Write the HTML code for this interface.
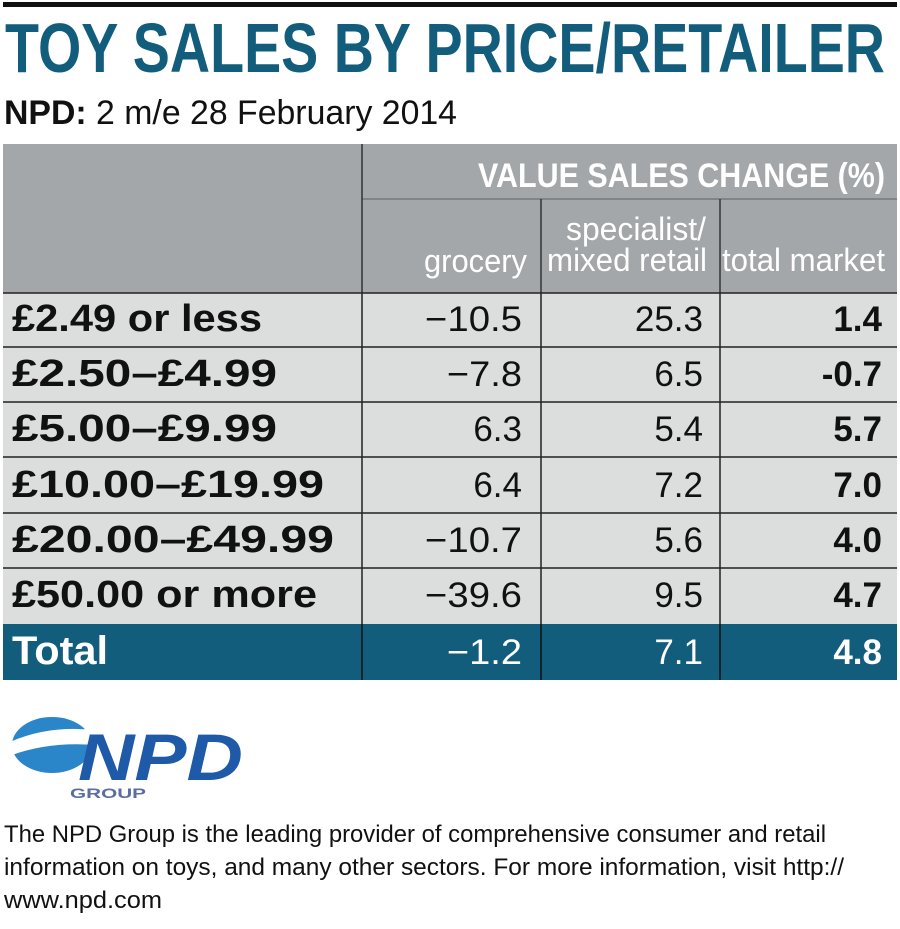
<!DOCTYPE html>
<html><head><meta charset="utf-8"><style>
html,body{margin:0;padding:0;background:#fff;}
svg{display:block;}
text{font-family:"Liberation Sans",sans-serif;}
</style></head><body>
<svg width="900" height="929" viewBox="0 0 900 929" xmlns="http://www.w3.org/2000/svg">
<rect x="3" y="2" width="894" height="5" fill="#111"/>
<text x="5" y="72" font-size="70" font-weight="bold" fill="#125c7c" textLength="880" lengthAdjust="spacingAndGlyphs">TOY SALES BY PRICE/RETAILER</text>
<text x="4" y="124" font-size="34" fill="#111" textLength="453" lengthAdjust="spacingAndGlyphs"><tspan font-weight="bold">NPD:</tspan> 2 m/e 28 February 2014</text>
<rect x="3" y="144" width="894" height="149" fill="#a3a7aa"/>
<line x1="362" y1="199" x2="897" y2="199" stroke="#7f8487" stroke-width="2"/>
<line x1="362" y1="144" x2="362" y2="293" stroke="#333" stroke-width="1.5"/>
<line x1="541" y1="199" x2="541" y2="293" stroke="#333" stroke-width="1.5"/>
<line x1="720" y1="199" x2="720" y2="293" stroke="#333" stroke-width="1.5"/>
<text x="885" y="187" font-size="34" font-weight="bold" fill="#fff" text-anchor="end" textLength="407" lengthAdjust="spacingAndGlyphs">VALUE SALES CHANGE (%)</text>
<text x="527" y="272" font-size="32" fill="#fff" text-anchor="end" textLength="103" lengthAdjust="spacingAndGlyphs">grocery</text>
<text x="706" y="240" font-size="32" fill="#fff" text-anchor="end" textLength="140" lengthAdjust="spacingAndGlyphs">specialist/</text>
<text x="707" y="271" font-size="32" fill="#fff" text-anchor="end" textLength="160" lengthAdjust="spacingAndGlyphs">mixed retail</text>
<text x="885" y="271" font-size="32" fill="#fff" text-anchor="end" textLength="163" lengthAdjust="spacingAndGlyphs">total market</text>
<rect x="3" y="293" width="894" height="331" fill="#dcdddd"/>
<g stroke="#222" stroke-width="1.5">
<line x1="3" y1="293" x2="897" y2="293"/>
<line x1="3" y1="347" x2="897" y2="347"/>
<line x1="3" y1="402" x2="897" y2="402"/>
<line x1="3" y1="457" x2="897" y2="457"/>
<line x1="3" y1="513" x2="897" y2="513"/>
<line x1="3" y1="568" x2="897" y2="568"/>
<line x1="362" y1="293" x2="362" y2="680"/>
<line x1="541" y1="293" x2="541" y2="680"/>
<line x1="720" y1="293" x2="720" y2="680"/>
</g>
<rect x="3" y="624" width="894" height="56" fill="#125c7c"/>
<g stroke="#111" stroke-width="1.5">
<line x1="362" y1="624" x2="362" y2="680"/><line x1="541" y1="624" x2="541" y2="680"/><line x1="720" y1="624" x2="720" y2="680"/>
</g>
<g font-size="35" fill="#111">
<g font-size="38" font-weight="bold">
<text x="12" y="331" textLength="250" lengthAdjust="spacingAndGlyphs">£2.49 or less</text>
<text x="12" y="386" textLength="265" lengthAdjust="spacingAndGlyphs">£2.50–£4.99</text>
<text x="12" y="441" textLength="265" lengthAdjust="spacingAndGlyphs">£5.00–£9.99</text>
<text x="12" y="497" textLength="312" lengthAdjust="spacingAndGlyphs">£10.00–£19.99</text>
<text x="12" y="552" textLength="322" lengthAdjust="spacingAndGlyphs">£20.00–£49.99</text>
<text x="12" y="607" textLength="305" lengthAdjust="spacingAndGlyphs">£50.00 or more</text>
</g>
<g text-anchor="end">
<text x="522" y="331" textLength="97" lengthAdjust="spacingAndGlyphs">−10.5</text>
<text x="522" y="386" textLength="75" lengthAdjust="spacingAndGlyphs">−7.8</text>
<text x="522" y="441">6.3</text>
<text x="522" y="497">6.4</text>
<text x="522" y="552" textLength="97" lengthAdjust="spacingAndGlyphs">−10.7</text>
<text x="522" y="607" textLength="97" lengthAdjust="spacingAndGlyphs">−39.6</text>
<text x="703" y="331">25.3</text>
<text x="703" y="386">6.5</text>
<text x="703" y="441">5.4</text>
<text x="703" y="497">7.2</text>
<text x="703" y="552">5.6</text>
<text x="703" y="607">9.5</text>
<g font-weight="bold">
<text x="882" y="331">1.4</text>
<text x="882" y="386">-0.7</text>
<text x="882" y="441">5.7</text>
<text x="882" y="497">7.0</text>
<text x="882" y="552">4.0</text>
<text x="882" y="607">4.7</text>
</g></g>
<g fill="#fff">
<text x="12" y="664" font-size="40" font-weight="bold" textLength="96" lengthAdjust="spacingAndGlyphs">Total</text>
<text x="522" y="664" text-anchor="end" textLength="75" lengthAdjust="spacingAndGlyphs">−1.2</text>
<text x="703" y="664" text-anchor="end">7.1</text>
<text x="882" y="664" text-anchor="end" font-weight="bold">4.8</text>
</g>
</g>
<g>
<ellipse cx="52" cy="745" rx="40" ry="28" fill="#2a86c8"/>
<path d="M10 742 Q60 720 120 735 L118 748 Q60 738 12 755 Z" fill="#fff"/>
<text x="78" y="780" font-size="66" font-weight="bold" fill="#1e5aa8" font-style="italic" textLength="165" lengthAdjust="spacingAndGlyphs">NPD</text>
<text x="70" y="798" font-size="14" font-weight="bold" fill="#5b6ea0" textLength="76" lengthAdjust="spacingAndGlyphs">GROUP</text>
</g>
<g font-size="24" fill="#111">
<text x="4" y="842" textLength="822" lengthAdjust="spacingAndGlyphs">The NPD Group is the leading provider of comprehensive consumer and retail</text>
<text x="4" y="875" textLength="840" lengthAdjust="spacingAndGlyphs">information on toys, and many other sectors. For more information, visit http://</text>
<text x="4" y="908" textLength="158" lengthAdjust="spacingAndGlyphs">www.npd.com</text>
</g>
</svg>
</body></html>
